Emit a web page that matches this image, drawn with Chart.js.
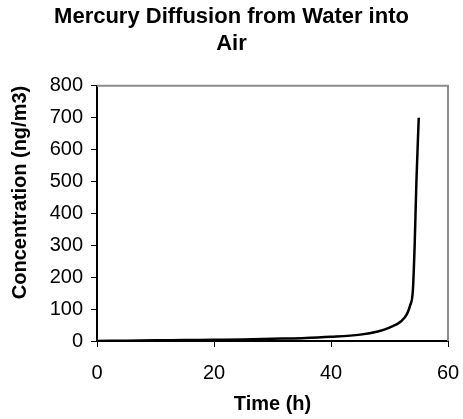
<!DOCTYPE html>
<html lang="en">
<head>
<meta charset="UTF-8">
<title>Mercury Diffusion from Water into Air</title>
<script src="https://cdn.jsdelivr.net/npm/chart.js"></script>
<style>
    html, body { margin: 0; padding: 0; background: #fff; }
    #wrap { width: 463px; height: 419px; }
</style>
</head>
<body>
<div id="wrap"><canvas id="chart"></canvas></div>
<script>
    // values
    const timeH = [0, 5, 10, 15, 20, 25, 30, 35, 40, 45, 48, 50, 52, 53, 53.5, 54, 54.3, 54.6, 55];
    const concNgM3 = [0, 1, 2, 3, 4, 5, 7, 9, 13, 20, 30, 42, 62, 85, 110, 160, 300, 500, 700];

    const chartTitle = ['Mercury Diffusion from Water into', 'Air'];
    const xLabel = 'Time (h)';
    const yLabel = 'Concentration (ng/m3)';

    const FONT = 'Liberation Sans, Arial, Helvetica, sans-serif';

    // gray frame on top and right side of the plot area (Excel style)
    const frame = {
        id: 'frame',
        afterDraw(chart) {
            const { ctx, chartArea: a } = chart;
            ctx.save();
            ctx.strokeStyle = '#8c8c8c';
            ctx.lineWidth = 2;
            ctx.beginPath();
            ctx.moveTo(a.left, a.top);
            ctx.lineTo(a.right, a.top);
            ctx.lineTo(a.right, a.bottom);
            ctx.stroke();
            ctx.restore();
        }
    };

    const points = timeH.map((t, i) => ({ x: t, y: concNgM3[i] }));

    new Chart(document.getElementById('chart').getContext('2d'), {
        type: 'scatter',
        data: {
            datasets: [{
                data: points,
                showLine: true,
                borderColor: '#000',
                borderWidth: 2.5,
                pointRadius: 0,
                cubicInterpolationMode: 'monotone'
            }]
        },
        options: {
            responsive: true,
            maintainAspectRatio: false,
            animation: false,
            layout: { padding: 0 },
            plugins: {
                legend: { display: false },
                tooltip: { enabled: false },
                title: {
                    display: true,
                    text: chartTitle,
                    color: '#000',
                    font: { family: FONT, size: 22, weight: 'bold', lineHeight: 1.2 },
                    padding: { top: 4, bottom: 29 }
                }
            },
            scales: {
                x: {
                    type: 'linear',
                    min: 0,
                    max: 60,
                    // room on the right for the last label, same as the reference
                    afterFit: s => { s.height = 78; s.paddingLeft = 0; s.paddingRight = 15; },
                    ticks: { stepSize: 20, color: '#000', font: { family: FONT, size: 20 }, padding: 14 },
                    grid: { drawOnChartArea: false, drawTicks: true, tickLength: 6, color: '#000' },
                    border: { color: '#000', width: 2 },
                    title: {
                        display: true,
                        text: xLabel,
                        color: '#000',
                        font: { family: FONT, size: 20, weight: 'bold' },
                        padding: { top: 0, bottom: 3 }
                    }
                },
                y: {
                    min: 0,
                    max: 800,
                    afterFit: s => { s.width = 97; },
                    ticks: { stepSize: 100, color: '#000', font: { family: FONT, size: 20 }, padding: 8 },
                    grid: { drawOnChartArea: false, drawTicks: true, tickLength: 6, color: '#000' },
                    border: { color: '#000', width: 2 },
                    title: {
                        display: true,
                        text: yLabel,
                        align: 'end',
                        color: '#000',
                        font: { family: FONT, size: 20, weight: 'bold' },
                        padding: { top: 8, bottom: 0 }
                    }
                }
            }
        },
        plugins: [frame]
    });
</script>
</body>
</html>
